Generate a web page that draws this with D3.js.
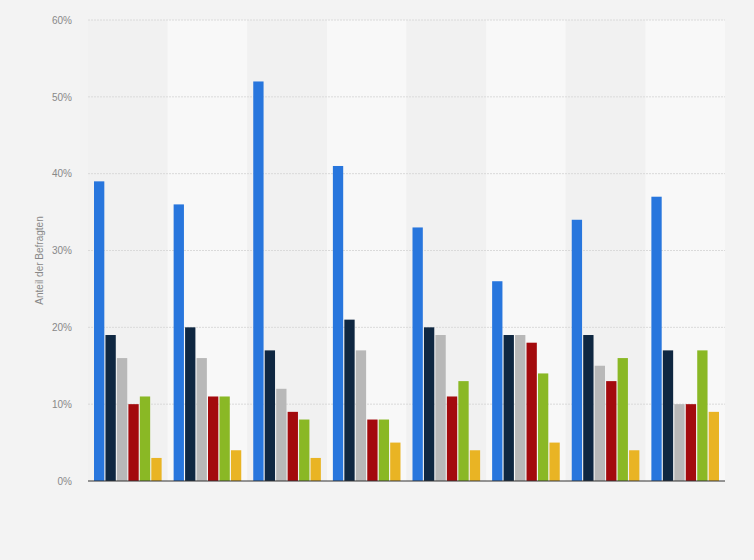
<!DOCTYPE html>
<html>
<head>
<meta charset="utf-8">
<script src="https://cdn.jsdelivr.net/npm/d3@7"></script>
<style>
  body { margin: 0; background: #f3f3f3; }
  svg { display: block; font-family: Arial, "Liberation Sans", sans-serif; }
</style>
</head>
<body>
<div id="chart"></div>
<script>
// groups on the x axis (no labels shown in the chart)
const categories = ["1", "2", "3", "4", "5", "6", "7", "8"];
const seriesNames = ["A", "B", "C", "D", "E", "F"];
const seriesColors = ["#2876dd", "#0f2741", "#b8b8b8", "#a30a0d", "#8ab825", "#e9b424"];

// percent values per series, one per group
const seriesA = [39, 36, 52, 41, 33, 26, 34, 37];
const seriesB = [19, 20, 17, 21, 20, 19, 19, 17];
const seriesC = [16, 16, 12, 17, 19, 19, 15, 10];
const seriesD = [10, 11, 9, 8, 11, 18, 13, 10];
const seriesE = [11, 11, 8, 8, 13, 14, 16, 17];
const seriesF = [3, 4, 3, 5, 4, 5, 4, 9];
const yTicks = [0, 10, 20, 30, 40, 50, 60];

const allSeries = [seriesA, seriesB, seriesC, seriesD, seriesE, seriesF];

const W = 754, H = 560;
const margin = { top: 20, right: 29, bottom: 79, left: 88 };
const innerW = W - margin.left - margin.right;
const innerH = H - margin.top - margin.bottom;

const svg = d3.select("#chart").append("svg")
  .attr("width", W).attr("height", H);

svg.append("rect").attr("width", W).attr("height", H).attr("fill", "#f3f3f3");

const g = svg.append("g").attr("transform", `translate(${margin.left},${margin.top})`);

const x0 = d3.scaleBand().domain(categories).range([0, innerW]).padding(0);
const x1 = d3.scaleBand().domain(seriesNames)
  .range([6, x0.bandwidth() - 6]).paddingInner(0.1).paddingOuter(0);
const y = d3.scaleLinear().domain([0, 60]).range([innerH, 0]);

// alternating column bands
g.selectAll(".band").data(categories).enter().append("rect")
  .attr("x", d => x0(d)).attr("y", 0)
  .attr("width", x0.bandwidth()).attr("height", innerH)
  .attr("fill", (d, i) => i % 2 ? "#f8f8f8" : "#f1f1f1");

// grid lines
g.selectAll(".grid").data(yTicks.filter(t => t > 0)).enter().append("line")
  .attr("x1", 0).attr("x2", innerW)
  .attr("y1", d => y(d)).attr("y2", d => y(d))
  .attr("stroke", "#dadada").attr("stroke-width", 1)
  .attr("stroke-dasharray", "2,1");

// y tick labels
const yAxis = g.append("g")
  .call(d3.axisLeft(y).tickValues(yTicks).tickFormat(d => d + "%").tickSize(0).tickPadding(16));
yAxis.select(".domain").remove();
yAxis.selectAll("text").attr("fill", "#888").attr("font-size", "10px");

// bars
const groups = g.selectAll(".grp").data(categories).enter().append("g")
  .attr("transform", d => `translate(${x0(d)},0)`);

groups.selectAll("rect")
  .data((d, gi) => allSeries.map((s, si) => ({ key: seriesNames[si], v: s[gi], c: seriesColors[si] })))
  .enter().append("rect")
  .attr("x", d => x1(d.key))
  .attr("y", d => y(d.v))
  .attr("width", x1.bandwidth())
  .attr("height", d => innerH - y(d.v))
  .attr("fill", d => d.c);

// baseline
g.append("line")
  .attr("x1", 0).attr("x2", innerW)
  .attr("y1", innerH).attr("y2", innerH)
  .attr("stroke", "#333").attr("stroke-width", 1.2);

// y axis title
svg.append("text")
  .attr("transform", `translate(43,${margin.top + innerH / 2 + 10}) rotate(-90)`)
  .attr("text-anchor", "middle")
  .attr("fill", "#888").attr("font-size", "10px")
  .text("Anteil der Befragten");
</script>
</body>
</html>
